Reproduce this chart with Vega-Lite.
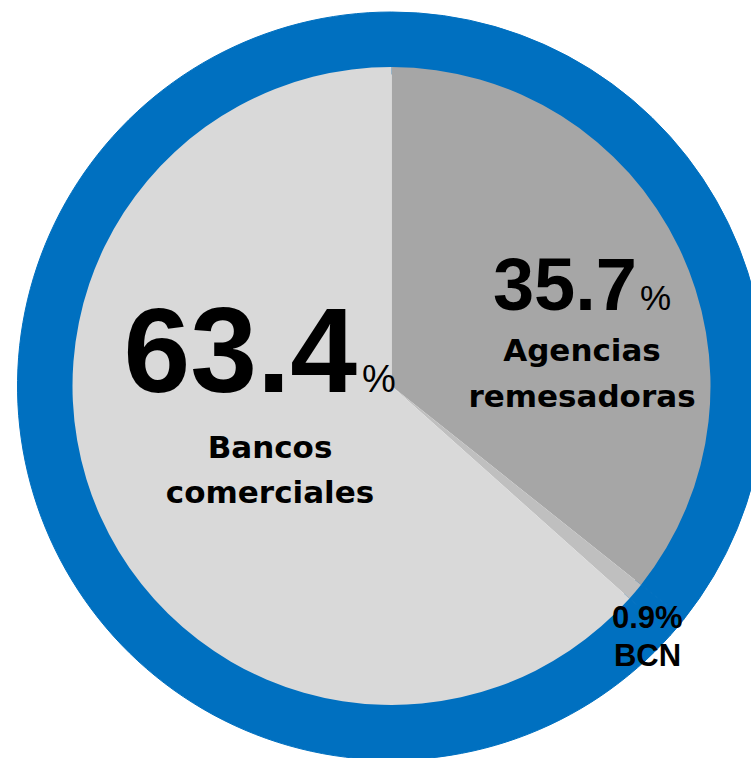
{
  "$schema": "https://vega.github.io/schema/vega-lite/v6.json",
  "width": 719,
  "height": 744,
  "autosize": {"type": "none"},
  "padding": {"left": 32, "top": 14, "right": 0, "bottom": 0},
  "background": "white",
  "config": {"view": {"stroke": null}},
  "data": {
    "values": [
      {"category": "Agencias remesadoras", "value": 35.7},
      {"category": "BCN", "value": 0.9},
      {"category": "Bancos comerciales", "value": 63.4}
    ]
  },
  "layer": [
    {
      "mark": {"type": "arc", "outerRadius": 374, "innerRadius": 312, "fill": "#0070c0", "stroke": "#0070c0", "strokeWidth": 1},
      "encoding": {
        "theta": {"field": "value", "type": "quantitative", "stack": true},
        "detail": {"field": "category", "type": "nominal"},
        "order": {"field": "category", "sort": "ascending"}
      }
    },
    {
      "mark": {"type": "arc", "outerRadius": 319},
      "encoding": {
        "theta": {"field": "value", "type": "quantitative", "stack": true},
        "color": {
          "field": "category", "type": "nominal", "legend": null,
          "scale": {"domain": ["Agencias remesadoras", "BCN", "Bancos comerciales"], "range": ["#a6a6a6", "#bfbfbf", "#d9d9d9"]}
        },
        "order": {"field": "category", "sort": "ascending"}
      }
    },
    {
      "transform": [{"filter": "datum.category === 'Bancos comerciales'"}],
      "mark": {"type": "text", "font": "Liberation Sans", "fontWeight": "bold", "fontSize": 120, "align": "right", "baseline": "alphabetic", "dx": -34.5, "dy": 6, "color": "#000000"},
      "encoding": {"text": {"field": "value", "type": "quantitative", "format": ".1f"}}
    },
    {
      "transform": [{"filter": "datum.category === 'Bancos comerciales'"}],
      "mark": {"type": "text", "text": "%", "font": "Liberation Sans", "fontSize": 38, "align": "left", "baseline": "alphabetic", "dx": -29.5, "dy": 6, "color": "#000000"},
      "encoding": {}
    },
    {
      "transform": [{"filter": "datum.category === 'Bancos comerciales'"}],
      "mark": {"type": "text", "font": "DejaVu Sans", "fontWeight": "bold", "fontSize": 31, "align": "center", "baseline": "alphabetic", "lineBreak": " ", "lineHeight": 45, "dx": -121.5, "dy": 72, "color": "#000000"},
      "encoding": {"text": {"field": "category", "type": "nominal"}}
    },
    {
      "transform": [{"filter": "datum.category === 'Agencias remesadoras'"}],
      "mark": {"type": "text", "font": "Liberation Sans", "fontWeight": "bold", "fontSize": 74, "align": "right", "baseline": "alphabetic", "dx": 245.5, "dy": -76, "color": "#000000"},
      "encoding": {"text": {"field": "value", "type": "quantitative", "format": ".1f"}}
    },
    {
      "transform": [{"filter": "datum.category === 'Agencias remesadoras'"}],
      "mark": {"type": "text", "text": "%", "font": "Liberation Sans", "fontSize": 35, "align": "left", "baseline": "alphabetic", "dx": 248.5, "dy": -76, "color": "#000000"},
      "encoding": {}
    },
    {
      "transform": [{"filter": "datum.category === 'Agencias remesadoras'"}],
      "mark": {"type": "text", "font": "DejaVu Sans", "fontWeight": "bold", "fontSize": 31, "align": "center", "baseline": "alphabetic", "lineBreak": " ", "lineHeight": 46, "dx": 190.5, "dy": -25, "color": "#000000"},
      "encoding": {"text": {"field": "category", "type": "nominal"}}
    },
    {
      "transform": [{"filter": "datum.category === 'BCN'"}],
      "mark": {"type": "text", "font": "Liberation Sans", "fontWeight": "bold", "fontSize": 31, "align": "right", "baseline": "alphabetic", "dx": 263.5, "dy": 242, "color": "#000000"},
      "encoding": {"text": {"field": "value", "type": "quantitative", "format": ".1f"}}
    },
    {
      "transform": [{"filter": "datum.category === 'BCN'"}],
      "mark": {"type": "text", "text": "%", "font": "Liberation Sans", "fontWeight": "bold", "fontSize": 31, "align": "left", "baseline": "alphabetic", "dx": 263.5, "dy": 242, "color": "#000000"},
      "encoding": {}
    },
    {
      "transform": [{"filter": "datum.category === 'BCN'"}],
      "mark": {"type": "text", "font": "Liberation Sans", "fontWeight": "bold", "fontSize": 31, "align": "center", "baseline": "alphabetic", "dx": 256, "dy": 280, "color": "#000000"},
      "encoding": {"text": {"field": "category", "type": "nominal"}}
    }
  ]
}
